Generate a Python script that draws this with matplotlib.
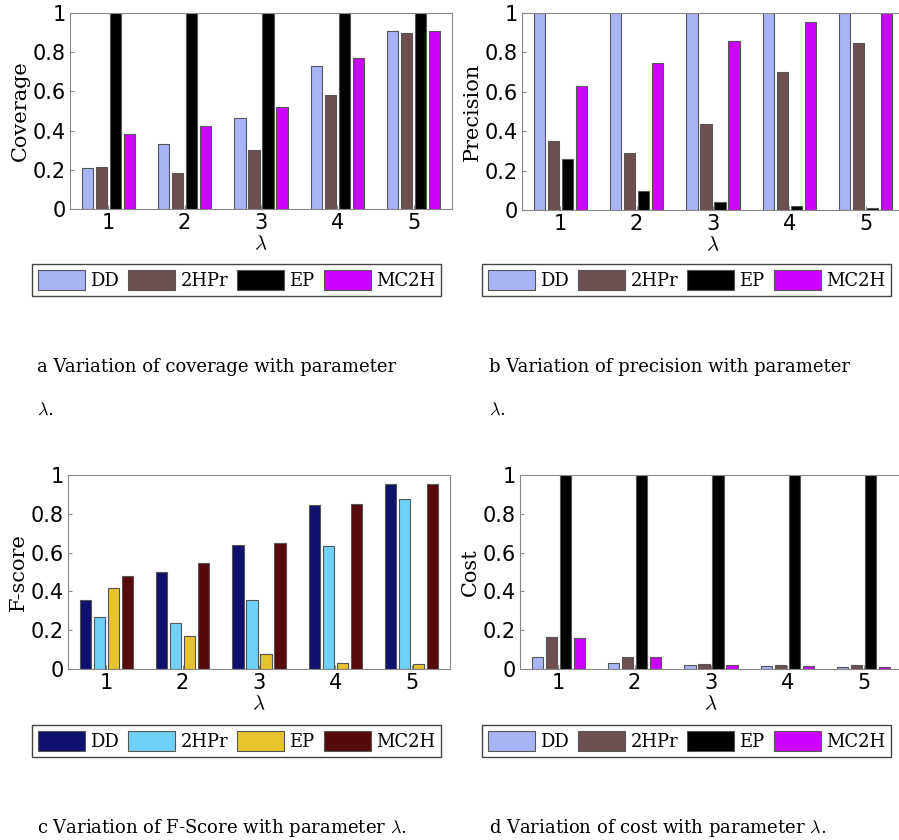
import matplotlib
matplotlib.use("Agg")
import matplotlib.pyplot as plt
import numpy as np

lam = [1, 2, 3, 4, 5]
series = ["DD", "2HPr", "EP", "MC2H"]
cov_DD = [0.21, 0.33, 0.465, 0.73, 0.91]
cov_2HPr = [0.215, 0.185, 0.30, 0.58, 0.90]
cov_EP = [1, 1, 1, 1, 1]
cov_MC2H = [0.385, 0.425, 0.52, 0.77, 0.91]
pre_DD = [1, 1, 1, 1, 1]
pre_2HPr = [0.35, 0.29, 0.435, 0.70, 0.85]
pre_EP = [0.26, 0.095, 0.04, 0.02, 0.01]
pre_MC2H = [0.63, 0.745, 0.86, 0.955, 1.0]
f_DD = [0.355, 0.50, 0.64, 0.845, 0.955]
f_2HPr = [0.27, 0.235, 0.355, 0.635, 0.875]
f_EP = [0.415, 0.17, 0.075, 0.03, 0.025]
f_MC2H = [0.48, 0.545, 0.65, 0.85, 0.955]
cost_DD = [0.06, 0.03, 0.02, 0.015, 0.01]
cost_2HPr = [0.165, 0.06, 0.025, 0.02, 0.02]
cost_EP = [1, 1, 1, 1, 1]
cost_MC2H = [0.16, 0.06, 0.02, 0.015, 0.01]

colsA = ["#aab4f5", "#6e4f4f", "#000000", "#cc00ff"]
colsF = ["#10106e", "#70d0f8", "#e8c42c", "#560a0e"]

plt.rcParams['mathtext.fontset'] = 'cm'
W, H = 899, 840
fig = plt.figure(figsize=(W/100, H/100), dpi=100)

def ax_px(l, t, r, b):
    return fig.add_axes([l/W, 1-b/H, (r-l)/W, (b-t)/H])

panels = [
    ((70, 13, 452, 209), [cov_DD, cov_2HPr, cov_EP, cov_MC2H], "Coverage", colsA, (30, 261, 443, 299),
     ["a Variation of coverage with parameter", r"$\lambda$."], 37),
    ((522, 13, 904, 210), [pre_DD, pre_2HPr, pre_EP, pre_MC2H], "Precision", colsA, (480, 261, 893, 299),
     ["b Variation of precision with parameter", r"$\lambda$."], 489),
    ((68, 475, 450, 669), [f_DD, f_2HPr, f_EP, f_MC2H], "F-score", colsF, (30, 723, 443, 759),
     [r"c Variation of F-Score with parameter $\lambda$."], 37),
    ((520, 475, 902, 669), [cost_DD, cost_2HPr, cost_EP, cost_MC2H], "Cost", colsA, (480, 723, 893, 759),
     [r"d Variation of cost with parameter $\lambda$."], 489),
]

x = np.array(lam, dtype=float)
bw = 0.145
offs = [-0.275, -0.092, 0.092, 0.275]
for (box, data, ylab, cols, lbox, cap, capx) in panels:
    ax = ax_px(*box)
    handles = []
    for i in range(4):
        h = ax.bar(x + offs[i], data[i], width=bw, color=cols[i], edgecolor="#555555",
                   linewidth=0.8, label=series[i])
        handles.append(h)
    ax.set_xlim(0.5, 5.5)
    ax.set_ylim(0, 1)
    ax.set_xticks(lam)
    ax.set_yticks([0, 0.2, 0.4, 0.6, 0.8, 1])
    ax.set_yticklabels(["0", "0.2", "0.4", "0.6", "0.8", "1"])
    ax.tick_params(labelsize=15, direction="in", length=3, color="#888888", pad=3)
    for s in ax.spines.values():
        s.set_color("#888888")
    ax.set_ylabel(ylab, family="DejaVu Serif", fontsize=15, labelpad=2)
    ax.set_xlabel(r"$\lambda$", fontsize=15, labelpad=0)
    lax = ax_px(*lbox)
    lax.axis("off")
    lax.legend(handles=handles, labels=series, loc="center", ncol=4,
               bbox_to_anchor=(0.5, 0.5), borderaxespad=0, fancybox=False,
               edgecolor="#444444", framealpha=1, handlelength=2.6, handleheight=1.3,
               columnspacing=0.5, handletextpad=0.3, borderpad=0.35,
               prop={"family": "DejaVu Serif", "size": 13})
    if len(cap) == 2:
        fig.text(capx/W, 1-367/H, cap[0], family="DejaVu Serif", fontsize=13, va="center")
        fig.text(capx/W, 1-410/H, cap[1], family="DejaVu Serif", fontsize=13, va="center")
    else:
        fig.text(capx/W, 1-828/H, cap[0], family="DejaVu Serif", fontsize=13, va="center")

fig.savefig("out.png", dpi=100)
